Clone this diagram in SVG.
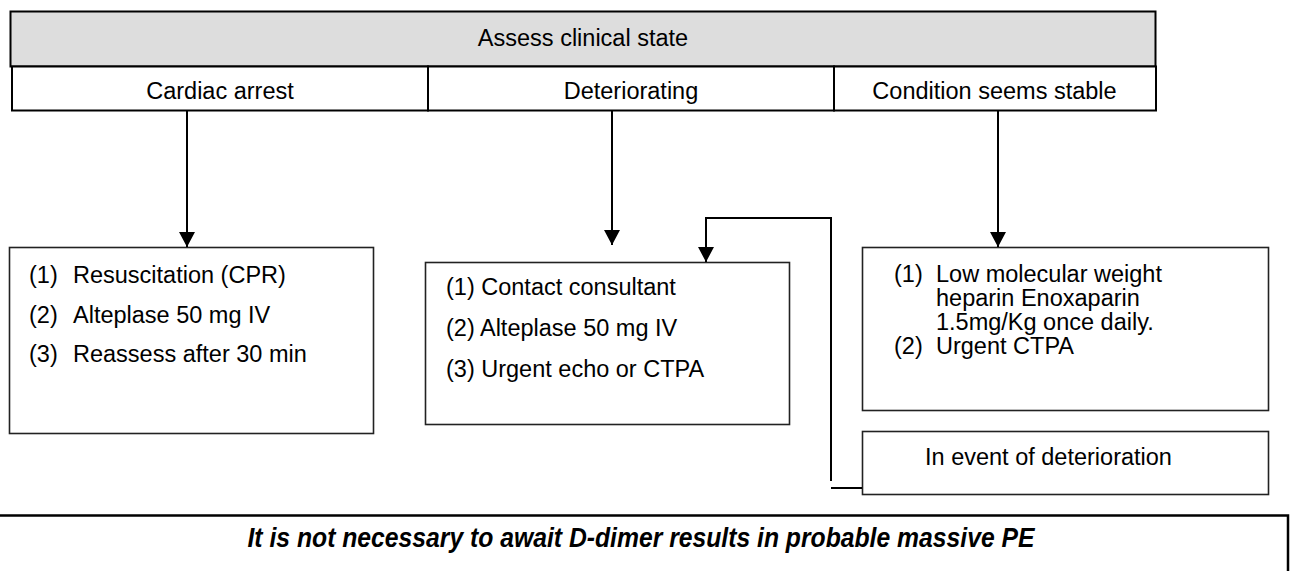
<svg xmlns="http://www.w3.org/2000/svg" width="1293" height="571" viewBox="0 0 1293 571">
<style>
  text { font-family: "Liberation Sans", Arial, sans-serif; font-size: 23.5px; fill: #000; }
  .hdr { fill: #dddddd; stroke: #000; stroke-width: 2; }
  .opt { fill: #fff; stroke: #000; stroke-width: 2; }
  .box { fill: #fff; stroke: #222; stroke-width: 1.6; }
  .c { text-anchor: middle; }
  .conn { fill: none; stroke: #000; stroke-width: 2; }
  .note { font-weight: bold; font-style: italic; font-size: 28px; }
</style>
<defs>
  <marker id="arr" markerUnits="userSpaceOnUse" markerWidth="16" markerHeight="16" viewBox="0 0 16 16" refX="15" refY="8" orient="auto">
    <path d="M0,0 L15,8 L0,16 Z" fill="#000"/>
  </marker>
</defs>

<g id="assess">
  <rect class="hdr" x="10.5" y="11.5" width="1145" height="55"/>
  <text class="c" x="583" y="46">Assess clinical state</text>
</g>
<g id="cardiac-arrest">
  <rect class="opt" x="12" y="66.5" width="416" height="44"/>
  <text class="c" x="220" y="99">Cardiac arrest</text>
</g>
<g id="deteriorating">
  <rect class="opt" x="428" y="66.5" width="406" height="44"/>
  <text class="c" x="631" y="99">Deteriorating</text>
</g>
<g id="stable">
  <rect class="opt" x="834" y="66.5" width="322" height="44"/>
  <text class="c" x="994.5" y="99">Condition seems stable</text>
</g>

<g id="arrest-actions">
  <rect class="box" x="9.5" y="247.5" width="364" height="186"/>
  <text x="29" y="283">(1)</text><text x="73" y="283">Resuscitation (CPR)</text>
  <text x="29" y="323">(2)</text><text x="73" y="323">Alteplase 50 mg IV</text>
  <text x="29" y="362">(3)</text><text x="73" y="362">Reassess after 30 min</text>
</g>
<g id="deteriorating-actions">
  <rect class="box" x="425.5" y="262.5" width="364" height="162"/>
  <text x="446" y="295">(1) Contact consultant</text>
  <text x="446" y="336">(2) Alteplase 50 mg IV</text>
  <text x="446" y="377">(3) Urgent echo or CTPA</text>
</g>
<g id="stable-actions">
  <rect class="box" x="862.5" y="247.5" width="406" height="163"/>
  <text x="894" y="282">(1)</text><text x="936" y="282">Low molecular weight</text>
  <text x="936" y="306">heparin Enoxaparin</text>
  <text x="936" y="330">1.5mg/Kg once daily.</text>
  <text x="894" y="354">(2)</text><text x="936" y="354">Urgent CTPA</text>
</g>
<g id="deterioration-event">
  <rect class="box" x="862.5" y="431.5" width="406" height="63"/>
  <text x="925" y="465">In event of deterioration</text>
</g>
<g id="note">
  <rect x="-3" y="515.5" width="1291" height="80" fill="#fff" stroke="#000" stroke-width="2.5"/>
  <text class="c note" x="641" y="547" textLength="787" lengthAdjust="spacingAndGlyphs">It is not necessary to await D-dimer results in probable massive PE</text>
</g>

<g id="connectors">
  <line class="conn" x1="187" y1="111" x2="187" y2="247" marker-end="url(#arr)"/>
  <line class="conn" x1="612" y1="111" x2="612" y2="245" marker-end="url(#arr)"/>
  <line class="conn" x1="998" y1="111" x2="998" y2="247" marker-end="url(#arr)"/>
  <path class="conn" d="M831,481 V218 H706 V262" marker-end="url(#arr)"/>
  <line class="conn" x1="831" y1="488" x2="862" y2="488"/>
</g>
</svg>
